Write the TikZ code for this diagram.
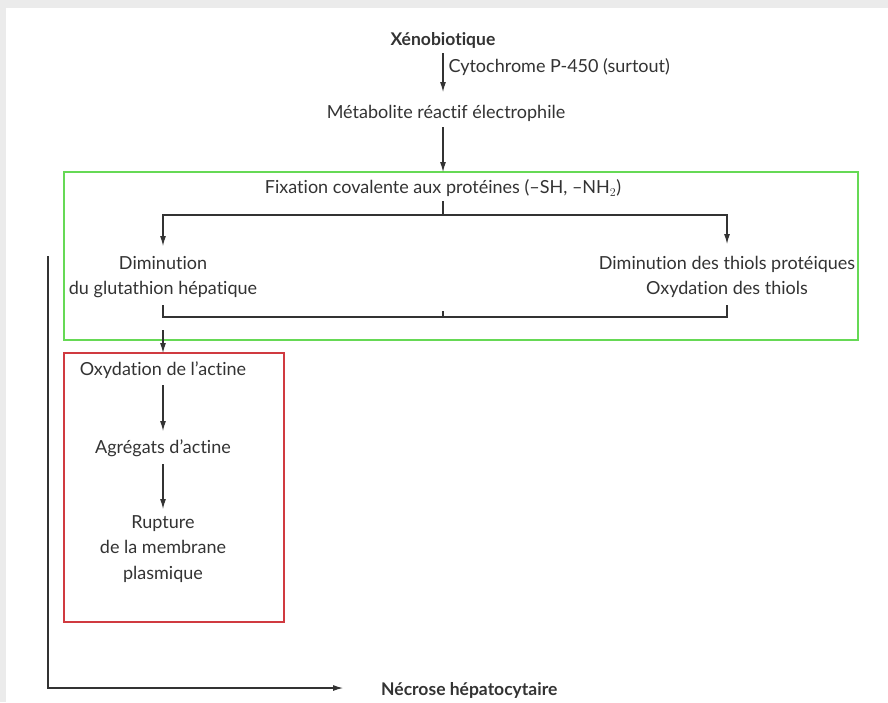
\documentclass[tikz,border=0pt]{standalone}
\usepackage{fontspec}
\setmainfont{Lato}[Ligatures={NoCommon,NoRare,NoContextual}]
\usetikzlibrary{arrows.meta}
\definecolor{ink}{HTML}{333333}
\definecolor{framegray}{HTML}{EBEBEB}
\definecolor{boxgreen}{HTML}{66D955}
\definecolor{boxred}{HTML}{D03A40}
\begin{document}
\begin{tikzpicture}[x=1pt,y=-1pt,
  lbl/.style={text=ink, font=\fontsize{18}{25.5}\selectfont, inner sep=0pt, align=center},
  bold/.style={lbl, font=\fontsize{17.5}{25.5}\selectfont\bfseries},
  flow/.style={draw=ink, line width=1.1pt, -{Latex[length=10pt,width=6pt]}},
  link/.style={draw=ink, line width=1.1pt},
  frame/.style={line width=1.6pt}]
% page with a soft grey margin along the top and left
\fill[framegray] (0,0) rectangle (888,702);
\fill[white] (6,8) rectangle (888,702);
\useasboundingbox (0,0) rectangle (888,702);

% coloured groups
\draw[frame, draw=boxgreen] (64,172) rectangle (858,340);
\draw[frame, draw=boxred] (64,353) rectangle (284,622);

% nodes
\node[bold] (xeno) at (443,40) {Xénobiotique};
\node[lbl] (meta) at (446,113) {Métabolite réactif électrophile};
\node[lbl] (fix) at (443,188) {Fixation covalente aux protéines (–SH, –NH$_2$)};
\node[lbl] (glut) at (163,277) {Diminution\\du glutathion hépatique};
\node[lbl] (thiol) at (727,277) {Diminution des thiols protéiques\\Oxydation des thiols};
\node[lbl] (oxact) at (163,370) {Oxydation de l’actine};
\node[lbl] (agr) at (163,448) {Agrégats d’actine};
\node[lbl] (rupt) at (163,549) {Rupture\\de la membrane\\plasmique};
\node[bold, anchor=west] (necr) at (381,690) {Nécrose hépatocytaire};

% junction points
\coordinate (xenoout) at (443,53);
\coordinate (metain) at (443,92);
\coordinate (metaout) at (443,127);
\coordinate (greentop) at (443,172);
\coordinate (fixout) at (443,201);
\coordinate (split) at (443,215);
\coordinate (gtop) at (163,215);
\coordinate (ttop) at (727,215);
\coordinate (gbot) at (163,305);
\coordinate (tbot) at (727,305);
\coordinate (merge) at (163,317);
\coordinate (mergeR) at (727,317);
\coordinate (redtop) at (163,353);
\coordinate (sidetop) at (48,256);
\coordinate (corner) at (48,688);
\coordinate (necrin) at (343,688);

% main chain
\draw[flow] (xenoout) -- (metain) node[lbl, anchor=west, pos=0.35, xshift=5pt] (cyp) {Cytochrome P-450 (surtout)};
\draw[flow] (metaout) -- (greentop);

% branching inside the green group
\draw[link] (fixout) -- (split);
\draw[flow] (split) -- (gtop) -- (163,246);
\draw[flow] (split) -- (ttop) -- (727,244);
\draw[link] (gbot) -- (merge) -- (mergeR) -- (tbot);
\draw[link] (443,317) -- (443,311);

% into the red group
\draw[flow] (163,330) -- (redtop);
\draw[flow] (163,385) -- (163,431);
\draw[flow] (163,464) -- (163,509);

% overall route to necrosis
\draw[flow] (sidetop) -- (corner) -- (necrin);
\end{tikzpicture}
\end{document}
